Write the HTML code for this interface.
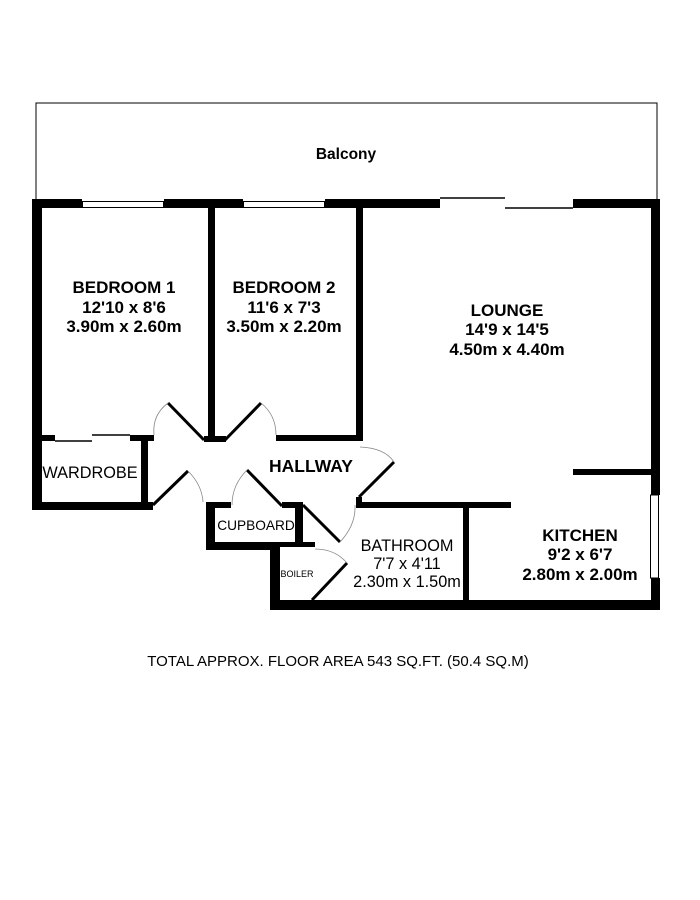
<!DOCTYPE html>
<html><head><style>html,body{margin:0;padding:0;background:#fff;}svg{display:block}</style></head>
<body>
<svg width="700" height="900" viewBox="0 0 700 900" xmlns="http://www.w3.org/2000/svg" font-family="Liberation Sans, Arial, sans-serif">
<rect x="0" y="0" width="700" height="900" fill="#fff"/>
<polyline points="36,200 36,103 657,103 657,200" fill="none" stroke="#000" stroke-width="1"/>
<g fill="#000">
<rect x="32" y="199" width="50" height="9"/>
<rect x="164" y="199" width="79" height="9"/>
<rect x="325" y="199" width="115" height="9"/>
<rect x="573" y="199" width="87" height="9"/>
<rect x="32" y="199" width="10" height="311"/>
<rect x="651" y="199" width="9" height="296"/>
<rect x="651" y="578" width="9" height="32"/>
<rect x="270" y="600" width="390" height="10"/>
<rect x="208" y="208" width="7" height="232"/>
<rect x="356" y="208" width="7" height="233"/>
<rect x="41" y="435" width="14" height="6"/>
<rect x="130" y="435" width="24" height="6"/>
<rect x="141" y="438" width="7" height="70"/>
<rect x="32" y="502" width="121" height="8"/>
<rect x="204" y="436" width="22" height="6"/>
<rect x="276" y="435" width="87" height="6"/>
<rect x="356" y="497" width="6" height="10"/>
<rect x="356" y="502" width="155" height="6"/>
<rect x="463" y="505" width="6" height="100"/>
<rect x="573" y="469" width="79" height="6"/>
<rect x="206" y="502" width="9" height="48"/>
<rect x="206" y="502" width="25" height="6"/>
<rect x="282" y="502" width="21" height="6"/>
<rect x="295" y="502" width="8" height="44"/>
<rect x="206" y="542" width="74" height="8"/>
<rect x="270" y="542" width="10" height="68"/>
<rect x="279" y="542" width="36" height="5"/>
</g>
<g fill="#fff" stroke="#000" stroke-width="1">
<rect x="82.5" y="201.5" width="81" height="6"/>
<rect x="243.5" y="201.5" width="81" height="6"/>
<rect x="650.5" y="495" width="8" height="83"/>
</g>
<g stroke="#000" stroke-width="1.5" fill="none">
<line x1="440" y1="198" x2="505" y2="198"/>
<line x1="505" y1="208" x2="573" y2="208"/>
<line x1="55" y1="441" x2="92" y2="441"/>
<line x1="92" y1="435" x2="130" y2="435"/>
</g>
<g stroke="#000" stroke-width="3" fill="none">
<line x1="168" y1="403" x2="204" y2="440"/>
<line x1="225" y1="440" x2="261" y2="403"/>
<line x1="359" y1="497" x2="394" y2="462"/>
<line x1="153" y1="505" x2="188" y2="471"/>
<line x1="247" y1="470" x2="282" y2="506"/>
<line x1="303" y1="505" x2="340" y2="542"/>
<line x1="312" y1="600" x2="347" y2="563"/>
</g>
<g stroke="#888" stroke-width="0.8" fill="none">
<path d="M168,403 Q152,415 154,435"/>
<path d="M261,403 Q276,415 276,435"/>
<path d="M360,447 Q385,448 394,462"/>
<path d="M188,471 Q202,485 203,502"/>
<path d="M247,470 Q232,485 232,505"/>
<path d="M340,542 Q356,525 355,505"/>
<path d="M347,563 Q335,549 315,549"/>
</g>
<g fill="#000" text-anchor="middle">
<text x="346" y="159" font-size="15.5" font-weight="bold">Balcony</text>
<g font-size="17" font-weight="bold">
<text x="124" y="293">BEDROOM 1</text>
<text x="124" y="313">12'10 x 8'6</text>
<text x="124" y="332">3.90m x 2.60m</text>
<text x="284" y="293">BEDROOM 2</text>
<text x="284" y="313">11'6 x 7'3</text>
<text x="284" y="332">3.50m x 2.20m</text>
<text x="507" y="316">LOUNGE</text>
<text x="507" y="335">14'9 x 14'5</text>
<text x="507" y="355">4.50m x 4.40m</text>
<text x="580" y="541">KITCHEN</text>
<text x="580" y="560">9'2 x 6'7</text>
<text x="580" y="580">2.80m x 2.00m</text>
</g>
<text x="311" y="472" font-size="17.5" font-weight="bold">HALLWAY</text>
<text x="90" y="478" font-size="16.3">WARDROBE</text>
<text x="256" y="530" font-size="13.7">CUPBOARD</text>
<text x="297" y="577" font-size="9">BOILER</text>
<g font-size="16.3">
<text x="407" y="551">BATHROOM</text>
<text x="407" y="569">7'7 x 4'11</text>
<text x="407" y="587">2.30m x 1.50m</text>
</g>
<text x="338" y="666" font-size="15">TOTAL APPROX. FLOOR AREA 543 SQ.FT. (50.4 SQ.M)</text>
</g>
</svg>
</body></html>
